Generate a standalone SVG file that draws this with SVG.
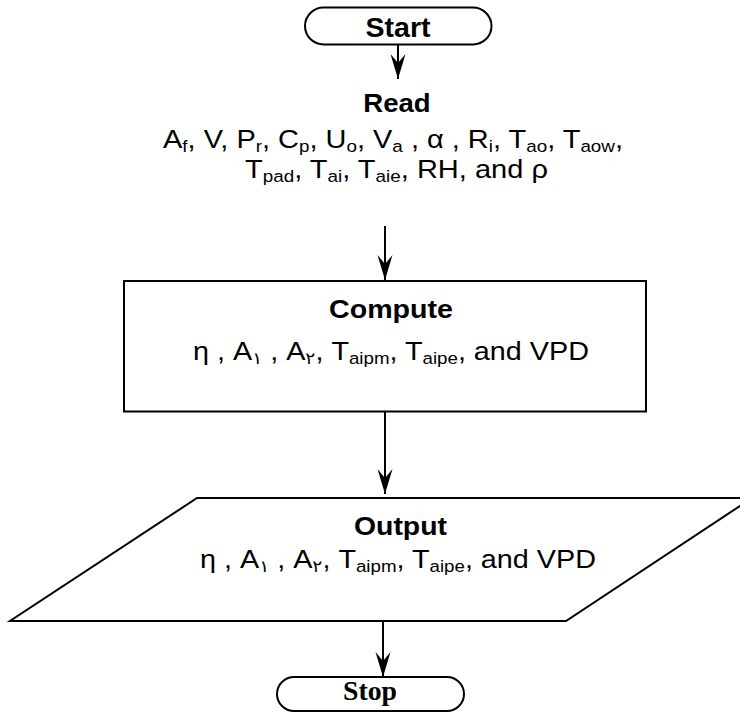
<svg xmlns="http://www.w3.org/2000/svg" width="740" height="713" viewBox="0 0 740 713">
<defs>
<style>
.sh{fill:#fff;stroke:#000;stroke-width:2}
.t{font-family:"Liberation Sans",Arial,"DejaVu Sans",sans-serif;fill:#000}
.b{font-weight:bold}
.s{font-size:65%;baseline-shift:-22%}
.ar{font-family:"DejaVu Sans",sans-serif}
.c{stroke:#000;stroke-width:2;fill:none}
</style>
<marker id="ah" markerUnits="userSpaceOnUse" markerWidth="28" markerHeight="18" viewBox="-26 -9 28 18" refX="0" refY="0" orient="auto">
<path d="M0,0 L-25,-7.5 L-16,0 L-25,7.5 Z" fill="#000"/>
</marker>
</defs>
<rect width="740" height="713" fill="#fff"/>
<g id="connectors">
<line class="c" x1="398" y1="44" x2="398" y2="79" marker-end="url(#ah)"/>
<line class="c" x1="385" y1="226" x2="385" y2="280" marker-end="url(#ah)"/>
<line class="c" x1="385" y1="412" x2="385" y2="494" marker-end="url(#ah)"/>
<line class="c" x1="383" y1="617" x2="383" y2="677" marker-end="url(#ah)"/>
</g>
<g id="start">
<rect class="sh" x="305" y="7.5" width="186.5" height="37" rx="18.5"/>
<text class="t b" x="365.5" y="37" font-size="27" textLength="65" lengthAdjust="spacingAndGlyphs">Start</text>
</g>
<g id="read">
<text class="t b" x="363.3" y="111.7" font-size="26" textLength="67.4" lengthAdjust="spacingAndGlyphs">Read</text>
<text class="t" x="163" y="147.7" font-size="26" textLength="460" lengthAdjust="spacingAndGlyphs">A<tspan class="s">f</tspan>, V, P<tspan class="s">r</tspan>, C<tspan class="s">p</tspan>, U<tspan class="s">o</tspan>, V<tspan class="s">a</tspan> , α , R<tspan class="s">i</tspan>, T<tspan class="s">ao</tspan>, T<tspan class="s">aow</tspan>,</text>
<text class="t" x="245" y="178.3" font-size="26" textLength="303" lengthAdjust="spacingAndGlyphs">T<tspan class="s">pad</tspan>, T<tspan class="s">ai</tspan>, T<tspan class="s">aie</tspan>, RH, and ρ</text>
</g>
<g id="compute">
<rect class="sh" x="124" y="281" width="522" height="130.5"/>
<text class="t b" x="329" y="318" font-size="26" textLength="124" lengthAdjust="spacingAndGlyphs">Compute</text>
<text class="t" x="193" y="360" font-size="25" textLength="396" lengthAdjust="spacingAndGlyphs">η , A<tspan class="s ar">١</tspan> , A<tspan class="s ar">٢</tspan>, T<tspan class="s">aipm</tspan>, T<tspan class="s">aipe</tspan>, and VPD</text>
</g>
<g id="output">
<polygon class="sh" points="197,498 752,498 566,621 10,621"/>
<text class="t b" x="354" y="535" font-size="26" textLength="93" lengthAdjust="spacingAndGlyphs">Output</text>
<text class="t" x="200" y="568" font-size="25" textLength="396" lengthAdjust="spacingAndGlyphs">η , A<tspan class="s ar">١</tspan> , A<tspan class="s ar">٢</tspan>, T<tspan class="s">aipm</tspan>, T<tspan class="s">aipe</tspan>, and VPD</text>
</g>
<g id="stop">
<rect class="sh" x="277" y="677" width="187" height="34" rx="17"/>
<text x="343" y="700" font-family="'Liberation Serif','Times New Roman',serif" font-weight="bold" font-size="27" textLength="54" lengthAdjust="spacingAndGlyphs">Stop</text>
</g>
</svg>
